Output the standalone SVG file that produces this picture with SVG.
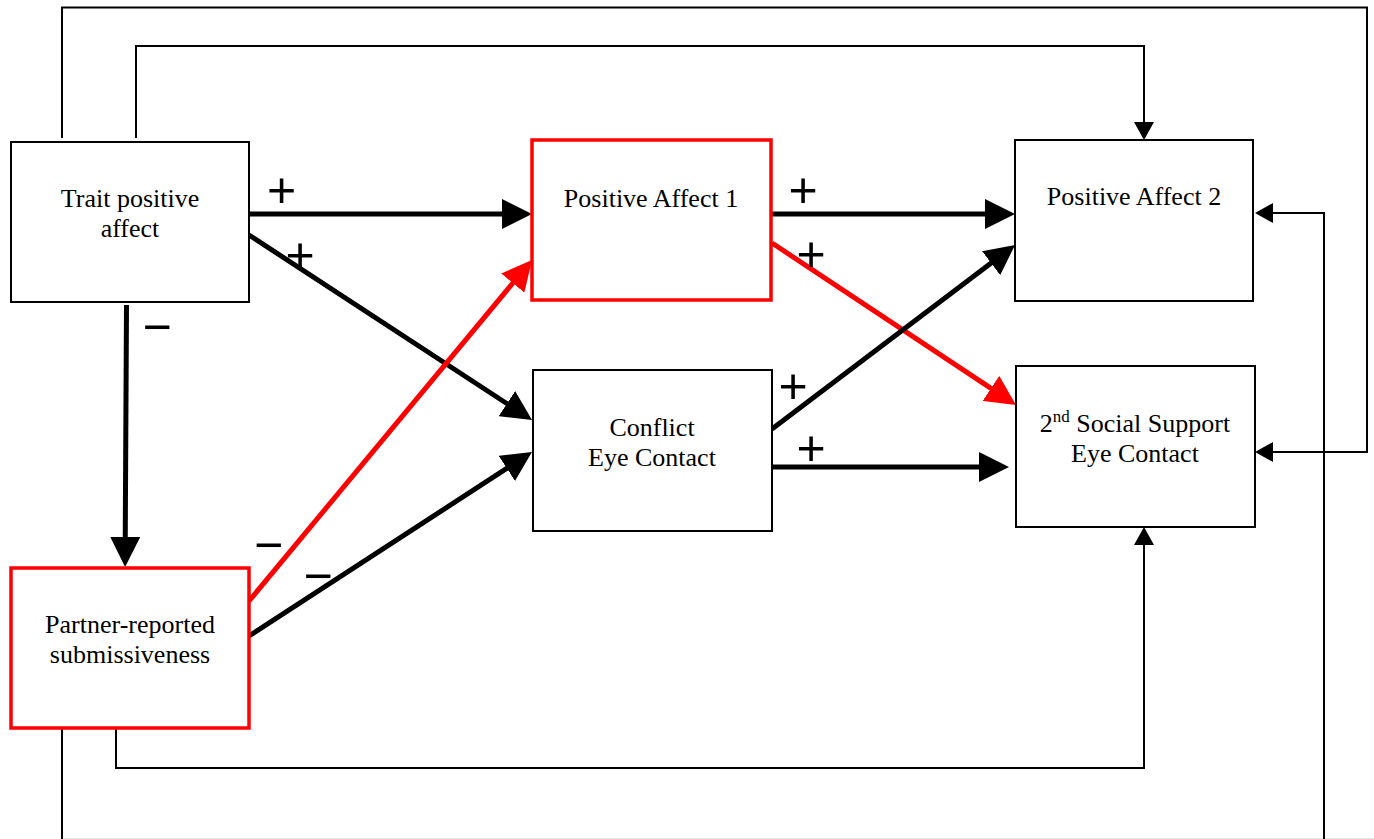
<svg xmlns="http://www.w3.org/2000/svg" width="1374" height="839" viewBox="0 0 1374 839">
  <style>
    .box { fill: #ffffff; stroke: #000000; stroke-width: 2; }
    .box.hl { stroke: #ff0000; stroke-width: 3.5; }
    .lbl { font-family: "Liberation Serif", "Times New Roman", serif; font-size: 26px; fill: #000000; text-anchor: middle; }
    .sign { font-family: "Liberation Sans", Arial, sans-serif; font-size: 50px; fill: #000000; text-anchor: middle; }
    .thin { fill: none; stroke: #000000; stroke-width: 2; }
    .thick { fill: none; stroke: #000000; stroke-width: 5; }
    .thick.red { stroke: #ff0000; }
  </style>
  <defs>
    <marker id="headBig" viewBox="0 0 30 30" refX="10" refY="15" markerWidth="30" markerHeight="30" markerUnits="userSpaceOnUse" orient="auto">
      <path d="M0,0 L30,15 L0,30 Z" fill="#000000"/>
    </marker>
    <marker id="headBigRed" viewBox="0 0 30 30" refX="10" refY="15" markerWidth="30" markerHeight="30" markerUnits="userSpaceOnUse" orient="auto">
      <path d="M0,0 L30,15 L0,30 Z" fill="#ff0000"/>
    </marker>
    <marker id="headThin" viewBox="0 0 18 20" refX="8" refY="10" markerWidth="18" markerHeight="20" markerUnits="userSpaceOnUse" orient="auto">
      <path d="M0,0 L18,10 L0,20 Z" fill="#000000"/>
    </marker>
  </defs>

  <rect width="1374" height="839" fill="#ffffff"/>
  <line x1="62" y1="838.5" x2="1374" y2="838.5" stroke="#e6e6e6" stroke-width="1"/>

  <!-- connectors -->
  <g id="connectors">
    <!-- long feedback paths -->
    <path class="thin" d="M62,138 V7.5 H1367 V452 H1265" marker-end="url(#headThin)"/>
    <path class="thin" d="M136,138 V46 H1144 V130" marker-end="url(#headThin)"/>
    <path class="thin" d="M1324,839 V213 H1265" marker-end="url(#headThin)"/>
    <path class="thin" d="M116,729 V768 H1144 V537" marker-end="url(#headThin)"/>
    <path class="thin" d="M62,729 V839"/>

    <!-- structural paths -->
    <path class="thick" d="M249,214 H512" marker-end="url(#headBig)"/>
    <path class="thick" d="M249,235 L515.3,409.1" marker-end="url(#headBig)"/>
    <path class="thick" d="M126.5,305 L125.2,547" marker-end="url(#headBig)"/>
    <path class="thick red" d="M249,601 L519.2,275.4" marker-end="url(#headBigRed)"/>
    <path class="thick" d="M249,636 L515.2,462.9" marker-end="url(#headBig)"/>
    <path class="thick" d="M772,214 H995" marker-end="url(#headBig)"/>
    <path class="thick red" d="M772,243 L999.3,393.9" marker-end="url(#headBigRed)"/>
    <path class="thick" d="M772,429 L999.1,257.1" marker-end="url(#headBig)"/>
    <path class="thick" d="M772,467 H989" marker-end="url(#headBig)"/>

    <!-- path signs -->
    <text class="sign" x="281.5" y="207">+</text>
    <text class="sign" x="300" y="271.5">+</text>
    <text class="sign" x="157" y="343.5">−</text>
    <text class="sign" x="803" y="207">+</text>
    <text class="sign" x="811" y="271">+</text>
    <text class="sign" x="793" y="402.5">+</text>
    <text class="sign" x="811" y="465">+</text>
    <text class="sign" x="268.5" y="561.5">−</text>
    <text class="sign" x="318" y="592.5">−</text>
  </g>

  <g id="trait-positive-affect">
    <rect class="box" x="11" y="142" width="238" height="160"/>
    <text class="lbl" x="130" y="207">Trait positive</text>
    <text class="lbl" x="130" y="237">affect</text>
  </g>

  <g id="positive-affect-1">
    <rect class="box hl" x="532" y="140" width="239" height="160"/>
    <text class="lbl" x="651" y="207">Positive Affect 1</text>
  </g>

  <g id="positive-affect-2">
    <rect class="box" x="1015" y="140" width="238" height="161"/>
    <text class="lbl" x="1134" y="205">Positive Affect 2</text>
  </g>

  <g id="conflict-eye-contact">
    <rect class="box" x="533" y="370" width="239" height="161"/>
    <text class="lbl" x="652" y="436">Conflict</text>
    <text class="lbl" x="652" y="466">Eye Contact</text>
  </g>

  <g id="social-support-eye-contact">
    <rect class="box" x="1016" y="366" width="239" height="161"/>
    <text class="lbl" x="1135" y="432">2<tspan font-size="17" dy="-10">nd</tspan><tspan dy="10"> Social Support</tspan></text>
    <text class="lbl" x="1135" y="462">Eye Contact</text>
  </g>

  <g id="partner-reported-submissiveness">
    <rect class="box hl" x="11" y="568" width="238" height="160"/>
    <text class="lbl" x="130" y="633">Partner-reported</text>
    <text class="lbl" x="130" y="663">submissiveness</text>
  </g>
</svg>
